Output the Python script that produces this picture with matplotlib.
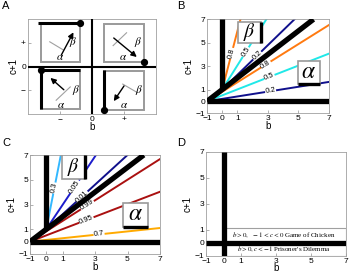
import numpy as np
import matplotlib
matplotlib.use('Agg')
import matplotlib.pyplot as plt
from matplotlib.patches import Rectangle

plt.rcParams['font.family'] = ['Liberation Sans', 'DejaVu Sans']
plt.rcParams['mathtext.fontset'] = 'stix'
plt.rcParams['axes.unicode_minus'] = True

# ---------------- data ----------------
ticks_bc = [-1, 0, 1, 3, 5, 7]

# Panel A: quadrant sketches (in axis units, -1..1)
A_squares = [(-0.80, 0.09, 0.61, 0.80), (0.19, 0.09, 0.62, 0.81),
             (-0.80, -0.90, 0.62, 0.82), (0.19, -0.91, 0.62, 0.82)]
A_thick = [[(-0.84, 0.92), (-0.19, 0.92)],
           [(0.81, 0.095), (0.81, 0.095)],
           [(-0.80, -0.90), (-0.80, -0.08), (-0.18, -0.08)],
           [(0.195, -0.08), (0.195, -0.91)]]
A_dots = [(-0.19, 0.92), (0.81, 0.095), (-0.80, -0.08), (0.195, -0.91)]
A_arrow_start = [(-0.48, 0.24), (0.34, 0.60), (-0.44, -0.49), (0.50, -0.41)]
A_arrow_end = [(-0.29, 0.72), (0.70, 0.20), (-0.65, -0.24), (0.34, -0.73)]
A_diag = [[(-0.66, 0.52), (-0.45, 0.35)], [(0.33, 0.44), (0.54, 0.71)],
          [(-0.56, -0.71), (-0.34, -0.43)], [(0.48, -0.37), (0.71, -0.55)]]
A_alpha = [(-0.50, 0.19), (0.49, 0.20), (-0.48, -0.82), (0.50, -0.82)]
A_beta = [(-0.29, 0.52), (0.72, 0.52), (-0.25, -0.49), (0.73, -0.49)]

# Panel B contour lines
B_low_labels = ['0.2', '0.5', '0.8']
B_low_end = [1.65, 4.06, 6.5]          # c+1 at b=7 (lines from (-1,0))
B_low_colors = ['#10108c', '#20e8e8', '#ff7a10']
B_low_label_b = [3.18, 3.1, 2.87]
B_up_labels = ['0.2', '0.5', '0.8']
B_up_top = [4.75, 2.9, 1.2]             # b where line reaches c+1=7 (from (0,1))
B_up_colors = ['#10108c', '#20e8e8', '#ff7a10']
B_up_label_b = [2.3, 1.55, 0.62]

# Panel C contour lines
C_low_labels = ['0.7', '0.95', '0.99']
C_low_end = [1.1, 4.03, 6.67]
C_low_colors = ['#ffaa00', '#aa1010', '#aa1010']
C_low_label_b = [3.25, 2.47, 2.53]
C_up_labels = ['0.01', '0.05', '0.3']
C_up_top = [5.0, 3.06, 0.9]
C_up_colors = ['#10108c', '#1c1ccc', '#33b8ff']
C_up_label_b = [2.2, 1.75, 0.5]

# ---------------- figure ----------------
W, H = 364, 275
fig = plt.figure(figsize=(W / 100, H / 100), dpi=100)


def px_axes(x0, y0, x1, y1):
    return fig.add_axes([x0 / W, 1 - y1 / H, (x1 - x0) / W, (y1 - y0) / H])


def style(ax):
    for s in ax.spines.values():
        s.set_color('#a0a0a0')
        s.set_linewidth(0.6)
    ax.tick_params(direction='in', length=2, width=0.5, color='#909090',
                   labelsize=6, pad=1.5)


TICKFS = 6

# ---------- Panel A ----------
axA = px_axes(28, 19, 156, 114)
style(axA)
axA.set_xlim(-1, 1)
axA.set_ylim(-1, 1)
axA.set_xticks([-0.5, 0, 0.5])
axA.set_xticklabels(['\u2212', '0', '+'])
axA.set_yticks([-0.5, 0, 0.5])
axA.set_yticklabels(['\u2212', '0', '+'])
axA.axhline(0, color='k', lw=1.5, zorder=3)
axA.axvline(0, color='k', lw=1.5, zorder=3)
for (x, y, w, h) in A_squares:
    axA.add_patch(Rectangle((x, y), w, h, fill=False, ec='#9a9a9a', lw=1.4, zorder=2))
for pts in A_thick:
    xs, ys = zip(*pts)
    axA.plot(xs, ys, color='k', lw=2.2, solid_capstyle='butt', zorder=4)
for (x, y) in A_dots:
    axA.plot(x, y, 'o', color='k', ms=4.2, zorder=5)
for s, e in zip(A_arrow_start, A_arrow_end):
    axA.annotate('', xy=e, xytext=s,
                 arrowprops=dict(arrowstyle='-|>', color='k', lw=1.0,
                                 mutation_scale=8, shrinkA=0, shrinkB=0), zorder=5)
for pts in A_diag:
    xs, ys = zip(*pts)
    axA.plot(xs, ys, color='#a0a0a0', lw=0.8, zorder=3)
for (x, y) in A_alpha:
    axA.text(x, y, r'$\alpha$', fontsize=8, ha='center', va='center', zorder=6)
for (x, y) in A_beta:
    axA.text(x, y, r'$\beta$', fontsize=8, ha='center', va='center', zorder=6)
axA.set_xlabel('b', fontsize=7, labelpad=-1)
axA.set_ylabel('c+1', fontsize=7, labelpad=2)


# ---------- Panels B and C ----------
def contour_panel(ax, low_end, low_col, low_lab, low_lb,
                  up_top, up_col, up_lab, up_lb, beta_box, alpha_box):
    style(ax)
    ax.set_xlim(-1, 7)
    ax.set_ylim(-1, 7)
    ax.set_xticks(ticks_bc)
    ax.set_yticks(ticks_bc)
    for e, c, lab, lb in zip(low_end, low_col, low_lab, low_lb):
        ax.plot([-1, 7], [0, e], color=c, lw=1.4, zorder=2)
        slope = e / 8.0
        ax.text(lb, slope * (lb + 1), lab, color='k', fontsize=5.5,
                rotation=np.degrees(np.arctan(slope)), transform_rotates_text=True,
                rotation_mode='anchor', ha='center', va='center', zorder=3,
                bbox=dict(fc='white', ec='none', pad=0.2))
    for t, c, lab, lb in zip(up_top, up_col, up_lab, up_lb):
        ax.plot([-1, 0, t], [0, 1, 7], color=c, lw=1.4, zorder=2)
        slope = 6.0 / t
        ax.text(lb, 1 + slope * lb, lab, color='k', fontsize=5.5,
                rotation=np.degrees(np.arctan(slope)), transform_rotates_text=True,
                rotation_mode='anchor', ha='center', va='center', zorder=3,
                bbox=dict(fc='white', ec='none', pad=0.2))
    ax.plot([-1, 7], [0, 0], color='k', lw=3.8, solid_capstyle='butt', zorder=4)
    ax.plot([0, 0], [1, 7], color='k', lw=3.8, solid_capstyle='butt', zorder=4)
    ax.plot([-1, 6], [0, 7], color='k', lw=3.8, solid_capstyle='butt', zorder=4)
    bx0, by0, bx1, by1 = beta_box
    ax.add_patch(Rectangle((bx0, by0), bx1 - bx0, by1 - by0, fc='white',
                           ec='#9a9a9a', lw=1.2, zorder=5))
    ax.plot([bx1, bx1], [by0, by1], color='k', lw=2.4, zorder=6,
            solid_capstyle='butt')
    ax.text((bx0 + bx1) / 2, (by0 + by1) / 2, r'$\beta$', fontsize=14,
            ha='center', va='center', zorder=7)
    ax0, ay0, ax1, ay1 = alpha_box
    ax.add_patch(Rectangle((ax0, ay0), ax1 - ax0, ay1 - ay0, fc='white',
                           ec='#9a9a9a', lw=1.2, zorder=5))
    ax.plot([ax0, ax1], [ay0, ay0], color='k', lw=2.4, zorder=6,
            solid_capstyle='butt')
    ax.text((ax0 + ax1) / 2, (ay0 + ay1) / 2 + 0.05, r'$\alpha$', fontsize=17,
            ha='center', va='center', zorder=7)
    ax.set_xlabel('b', fontsize=7, labelpad=-1)
    ax.set_ylabel('c+1', fontsize=7, labelpad=1)


axB = px_axes(207, 19.3, 328.7, 113)
contour_panel(axB, B_low_end, B_low_colors, B_low_labels, B_low_label_b,
              B_up_top, B_up_colors, B_up_labels, B_up_label_b,
              (1.07, 4.96, 2.57, 6.8), (5.0, 1.5, 6.4, 3.4))

axC = px_axes(30, 155, 160, 254)
contour_panel(axC, C_low_end, C_low_colors, C_low_labels, C_low_label_b,
              C_up_top, C_up_colors, C_up_labels, C_up_label_b,
              (0.95, 5.1, 2.38, 7.0), (4.74, 1.2, 6.28, 3.1))

# ---------- Panel D ----------
axD = px_axes(206, 152, 346, 255.7)
style(axD)
axD.set_xlim(-1, 7)
axD.set_ylim(-1, 7)
axD.set_xticks(ticks_bc)
axD.set_yticks(ticks_bc)
axD.add_patch(Rectangle((0.1, 0.0), 6.9, 1.1, fill=False, ec='#a0a0a0', lw=0.8, zorder=2))
axD.add_patch(Rectangle((0.1, -1.0), 6.9, 1.0, fill=False, ec='#a0a0a0', lw=0.8, zorder=2))
axD.plot([-1, 7], [0, 0], color='k', lw=3.8, solid_capstyle='butt', zorder=4)
axD.plot([0, 0], [-1, 7], color='k', lw=3.8, solid_capstyle='butt', zorder=4)
axD.text(3.45, 0.6, r'$b>0,\ \ -1<c<0$ Game of Chicken', fontsize=5,
         family=['Liberation Serif', 'DejaVu Serif'], ha='center', va='center', zorder=5)
axD.text(3.45, -0.5, r"$b>0, c<-1$ Prisoner's Dilemma", fontsize=5,
         family=['Liberation Serif', 'DejaVu Serif'], ha='center', va='center', zorder=5)
axD.set_xlabel('b', fontsize=7, labelpad=-1)
axD.set_ylabel('c+1', fontsize=7, labelpad=1)

# panel letters
for lab, x, y in [('A', 2, 1), ('B', 177, 1), ('C', 2, 138), ('D', 177, 138)]:
    fig.text(x / W, 1 - y / H, lab, fontsize=8, ha='left', va='top')

fig.savefig('out.png', dpi=100)
